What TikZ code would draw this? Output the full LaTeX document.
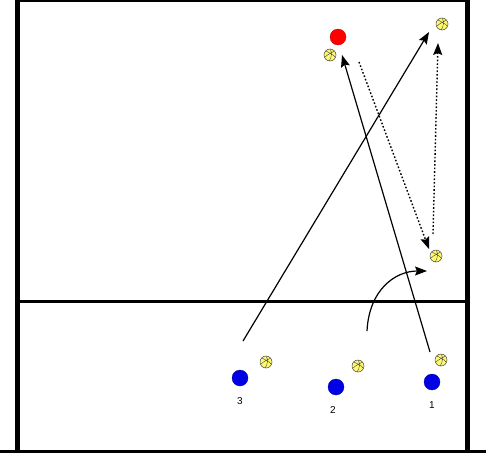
\documentclass[tikz,border=0pt]{standalone}
\usepackage{fontspec}
\setmainfont{Liberation Sans}
\usetikzlibrary{arrows.meta}
\begin{document}
\begin{tikzpicture}[x=1pt,y=-1pt,
  wall/.style={line width=5pt},
  arr/.style={line width=1.2pt,-{Stealth[length=12pt,width=9pt,inset=2pt]}},
  dotarr/.style={line width=1.4pt,dash pattern=on 1.6pt off 2pt,-{Stealth[length=12pt,width=9pt,inset=2pt]}},
  player/.style={circle,fill=blue!90!black,draw=blue!60!black,line width=0.3pt,minimum size=16pt,inner sep=0pt},
  coach/.style={circle,fill=red,draw=red!70!black,line width=0.3pt,minimum size=16pt,inner sep=0pt},
  ball/.style={circle,fill=yellow!55,draw=black!75,line width=0.5pt,minimum size=12pt,inner sep=0pt,
    path picture={
      \draw[black!75,line width=0.4pt]
        ([xshift=-5pt,yshift=-2pt]path picture bounding box.center) .. controls +(3pt,3pt) and +(-2pt,-2pt) .. ([xshift=4pt,yshift=4pt]path picture bounding box.center)
        ([xshift=-4pt,yshift=4pt]path picture bounding box.center) .. controls +(3pt,-2pt) and +(-2pt,3pt) .. ([xshift=5pt,yshift=-2pt]path picture bounding box.center)
        ([xshift=-1pt,yshift=-6pt]path picture bounding box.center) .. controls +(3pt,3pt) and +(2pt,-2pt) .. ([xshift=0pt,yshift=6pt]path picture bounding box.center);
    }},
  lbl/.style={font=\fontsize{10pt}{11pt}\selectfont,inner sep=0pt}]
\useasboundingbox (0,0) rectangle (486,453);
% court
\coordinate (tl) at (17.5,1);
\coordinate (tr) at (467.5,1);
\coordinate (bl) at (17.5,453);
\coordinate (br) at (467.5,453);
\coordinate (nl) at (17.5,301.5);
\coordinate (nr) at (467.5,301.5);
\coordinate (gl) at (0,451.5);
\coordinate (gr) at (486,451.5);
\draw[line width=2.5pt] (15,1.2) -- (470,1.2);
\draw[wall] (tl) -- (bl);
\draw[wall] (tr) -- (br);
\draw[line width=3pt] (nl) -- (nr);
\draw[line width=3pt] (gl) -- (gr);
% people
\node[coach] (c) at (338,37) {};
\node[player] (p3) at (240,378) {};
\node[player] (p2) at (336,387) {};
\node[player] (p1) at (432,382) {};
\node[lbl] (l3) at (240,401) {3};
\node[lbl] (l2) at (333,410) {2};
\node[lbl] (l1) at (432,405) {1};
% balls
\node[ball] (bc) at (330,55) {};
\node[ball] (btr) at (442,24) {};
\node[ball] (bm) at (436,256) {};
\node[ball] (b3) at (266,362) {};
\node[ball] (b2) at (358,366) {};
\node[ball] (b1) at (441,360) {};
% arrow ends
\coordinate (s3) at (243,341);
\coordinate (e3) at (429,32);
\coordinate (s1) at (430,352);
\coordinate (e1) at (342,55);
\coordinate (sd1) at (359,62);
\coordinate (ed1) at (429,249);
\coordinate (sd2) at (433,234);
\coordinate (ed2) at (438,43);
\coordinate (sc) at (367,331);
\coordinate (ec) at (427,271);
\draw[arr] (s3) -- (e3);
\draw[arr] (s1) -- (e1);
\draw[dotarr] (sd1) -- (ed1);
\draw[dotarr] (sd2) -- (ed2);
\draw[arr] (sc) .. controls (369,290) and (395,271) .. (ec);
\end{tikzpicture}
\end{document}
